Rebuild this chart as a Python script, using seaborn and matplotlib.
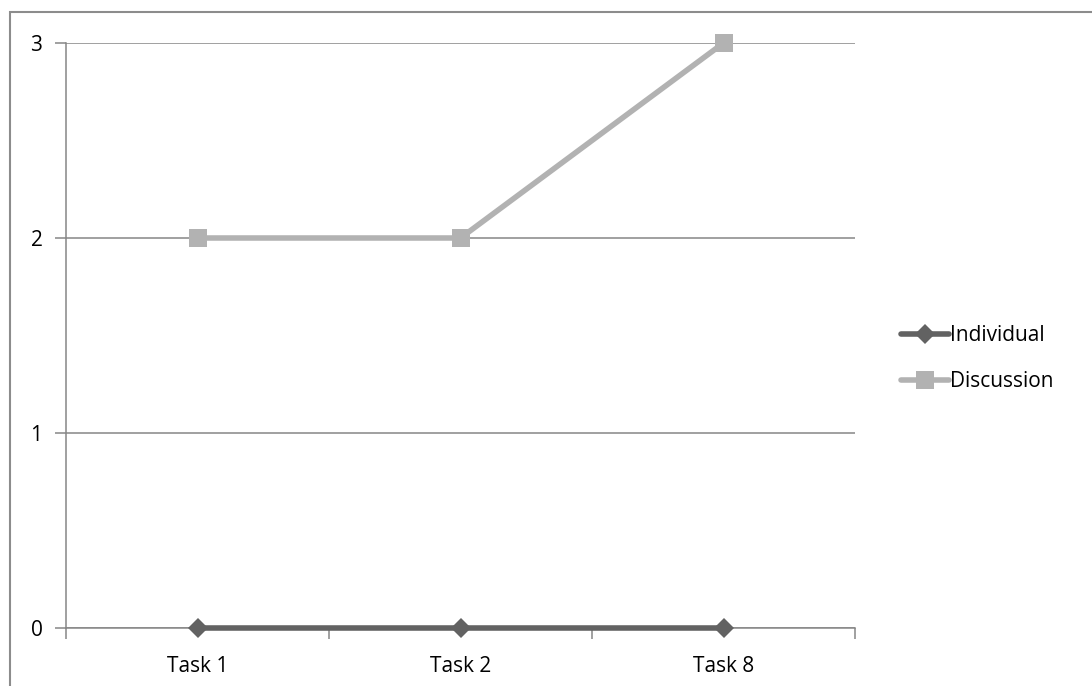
import matplotlib
matplotlib.use("Agg")
import matplotlib.pyplot as plt
import pandas as pd
import seaborn as sns
from matplotlib.patches import Rectangle

tasks = ["Task 1", "Task 2", "Task 8"]
individual = [0, 0, 0]
discussion = [2, 2, 3]
y_ticks = [0, 1, 2, 3]

sns.set_style("white")
plt.rcParams["font.family"] = ["Open Sans", "DejaVu Sans"]
plt.rcParams["text.color"] = "black"

fig = plt.figure(figsize=(10.92, 6.86), dpi=100)
ax = fig.add_axes([66 / 1092, 1 - 628 / 686, (855 - 66) / 1092, (628 - 43) / 686])

grid_col = "#868686"
for val in y_ticks:
    ax.axhline(val, color=grid_col, lw=1.1, zorder=0)

df = pd.DataFrame({
    "task": tasks * 2,
    "value": individual + discussion,
    "series": ["Individual"] * 3 + ["Discussion"] * 3,
})

styles = {
    "Individual": dict(color="#626262", marker="D", markersize=10),
    "Discussion": dict(color="#b2b2b2", marker="s", markersize=13),
}
for name, st in styles.items():
    sub = df[df["series"] == name]
    sns.lineplot(data=sub, x="task", y="value", ax=ax, label=name,
                 color=st["color"], lw=4.0, marker=st["marker"],
                 markersize=st["markersize"], markeredgewidth=0,
                 markerfacecolor=st["color"], zorder=5, clip_on=False)

fs = 15
ax.set_xlim(-0.5, len(tasks) - 0.5)
ax.set_ylim(0, 3)
ax.set_yticks(y_ticks)
ax.set_yticklabels([str(v) for v in y_ticks], fontsize=fs, color="black")
ax.set_xticks(range(len(tasks)))
ax.set_xticklabels(tasks, fontsize=fs, color="black")
ax.tick_params(axis="x", length=0, pad=20, bottom=True)
ax.set_xticks([i - 0.5 for i in range(len(tasks) + 1)], minor=True)
ax.tick_params(axis="x", which="minor", length=8, color=grid_col, width=1.1,
               direction="out", bottom=True)
ax.tick_params(axis="y", length=8, color=grid_col, width=1.1, direction="out",
               pad=9, left=True)
ax.set_xlabel("")
ax.set_ylabel("")

for side in ["top", "right"]:
    ax.spines[side].set_visible(False)
ax.spines["left"].set_color(grid_col)
ax.spines["left"].set_linewidth(1.1)
ax.spines["bottom"].set_color(grid_col)
ax.spines["bottom"].set_linewidth(1.1)
ax.spines["bottom"].set_zorder(1)

leg = ax.legend(loc="center left", bbox_to_anchor=(1.035, 0.46), frameon=False,
                fontsize=fs, handlelength=2.3, handletextpad=0.05,
                labelspacing=1.2)
for t in leg.get_texts():
    t.set_color("black")

fig.patches.append(Rectangle((10 / 1092, -0.05), 1.2, 1 - 12 / 686 + 0.05,
                             transform=fig.transFigure, fill=False,
                             edgecolor="#8c8c8c", lw=1.5))

fig.savefig("out.png", dpi=100)
